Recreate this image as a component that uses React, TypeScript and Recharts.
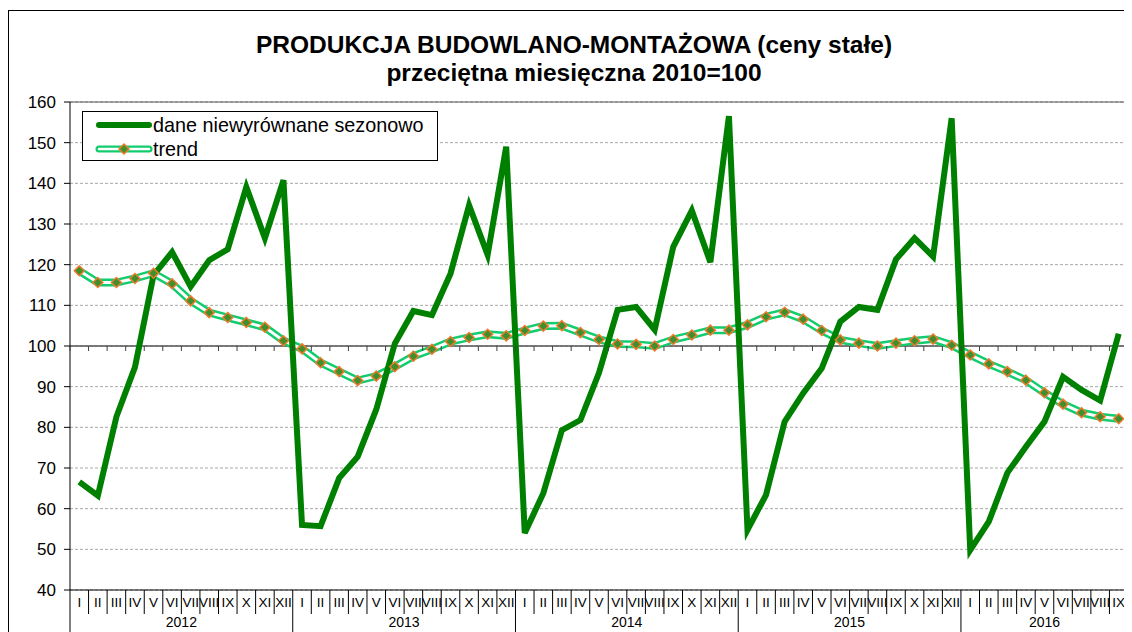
import React from 'react'
import {
  ComposedChart,
  Line,
  XAxis,
  YAxis,
  CartesianGrid,
  ReferenceLine,
} from 'recharts'

const ROMAN = ['I', 'II', 'III', 'IV', 'V', 'VI', 'VII', 'VIII', 'IX', 'X', 'XI', 'XII']
const YEARS = [2012, 2013, 2014, 2015, 2016]
const MONTHS_IN_YEAR = [12, 12, 12, 12, 9]

// dane niewyrównane sezonowo
const UNADJUSTED = [
  66.6, 63.2, 82.6, 94.8, 117.4, 123.1, 114.6, 121.1, 123.8, 139.1, 126.5, 140.8,
  56.0, 55.7, 67.5, 72.8, 84.4, 100.6, 108.6, 107.6, 117.8, 134.6, 122.4, 149.0,
  54.0, 63.8, 79.3, 81.8, 93.4, 108.9, 109.6, 104.0, 124.4, 133.3, 120.6, 156.5,
  54.8, 63.4, 81.4, 88.4, 94.5, 106.0, 109.6, 108.9, 121.3, 126.5, 122.0, 156.0,
  49.8, 56.8, 68.8, 75.2, 81.4, 92.4, 89.2, 86.6, 103.0,
]

const TREND = [
  118.5, 115.6, 115.6, 116.6, 117.9, 115.3, 111.1, 108.2, 107.0, 105.8, 104.6, 101.3,
  99.3, 95.9, 93.7, 91.5, 92.6, 94.9, 97.5, 99.2, 101.1, 102.1, 102.9, 102.5,
  103.8, 104.9, 105.0, 103.3, 101.6, 100.5, 100.4, 100.0, 101.6, 102.7, 103.9, 103.9,
  105.2, 107.2, 108.3, 106.6, 103.8, 101.5, 100.7, 100.0, 100.7, 101.3, 101.7, 100.2,
  97.8, 95.6, 93.7, 91.6, 88.5, 85.7, 83.6, 82.6, 82.1,
]

const Y_TICKS = [40, 50, 60, 70, 80, 90, 100, 110, 120, 130, 140, 150, 160]

const rows: { i: number; m: string; year: number; first: boolean; count: number; raw: number; trend: number }[] = []
YEARS.forEach((year, yi) => {
  for (let k = 0; k < MONTHS_IN_YEAR[yi]; k++) {
    const i = rows.length
    rows.push({
      i,
      m: ROMAN[k],
      year,
      first: k === 0,
      count: MONTHS_IN_YEAR[yi],
      raw: UNADJUSTED[i],
      trend: TREND[i],
    })
  }
})

const W = 1124
const H = 624
const MARGIN = { top: 94, right: 4, bottom: 0, left: 10 }
const Y_AXIS_W = 52
const X_AXIS_H = 42
const PLOT_LEFT = MARGIN.left + Y_AXIS_W
const PLOT_W = W - PLOT_LEFT - MARGIN.right
const PLOT_TOP = MARGIN.top
const PLOT_H = H - MARGIN.top - MARGIN.bottom - X_AXIS_H
const PLOT_BOTTOM = PLOT_TOP + PLOT_H
const STEP = PLOT_W / rows.length
const Y_AXIS_CROSS = PLOT_TOP + ((160 - 100) / 120) * PLOT_H

const FONT = '"Liberation Sans", Arial, sans-serif'

const MonthTick = (props: any) => {
  const { x, payload } = props
  const row = rows[payload.value]
  if (!row) return null
  const left = x - STEP / 2
  const right = x + STEP / 2
  const last = row.i === rows.length - 1
  return (
    <g>
      <line x1={left} x2={left} y1={PLOT_BOTTOM} y2={row.first ? H : PLOT_BOTTOM + 24} stroke="#000" strokeWidth={1} />
      {last && <line x1={right} x2={right} y1={PLOT_BOTTOM} y2={H} stroke="#000" strokeWidth={1} />}
      <line x1={left} x2={left} y1={Y_AXIS_CROSS} y2={Y_AXIS_CROSS + 5} stroke="#404040" strokeWidth={1} />
      {last && <line x1={right} x2={right} y1={Y_AXIS_CROSS} y2={Y_AXIS_CROSS + 5} stroke="#404040" strokeWidth={1} />}
      <text x={x} y={PLOT_BOTTOM + 17} textAnchor="middle" fontSize={13.5} fontFamily={FONT} fill="#000">
        {row.m}
      </text>
      {row.first && (
        <text
          x={x + ((row.count - 1) / 2) * STEP}
          y={PLOT_BOTTOM + 37}
          textAnchor="middle"
          fontSize={14}
          fontFamily={FONT}
          fill="#000"
        >
          {row.year}
        </text>
      )}
    </g>
  )
}

const Diamond = (props: any) => {
  const { cx, cy, index } = props
  if (cx == null || cy == null) return null
  const r = 5
  return (
    <polygon
      key={`d-${index}`}
      points={`${cx},${cy - r} ${cx + r},${cy} ${cx},${cy + r} ${cx - r},${cy}`}
      fill="#3f8f2f"
      stroke="#f07a2a"
      strokeWidth={1.5}
    />
  )
}

const LegendBox = () => (
  <div
    style={{
      position: 'absolute',
      left: 74,
      top: 103,
      width: 354,
      height: 48,
      border: '1px solid #000',
      background: '#fff',
      fontFamily: FONT,
      fontSize: 19.8,
      color: '#000',
      zIndex: 2,
    }}
  >
    <div style={{ position: 'absolute', left: 0, top: 2, height: 22, display: 'flex', alignItems: 'center' }}>
      <svg width={70} height={22} style={{ display: 'block' }}>
        <line x1={16} x2={66} y1={11} y2={11} stroke="#008000" strokeWidth={6} strokeLinecap="round" />
      </svg>
      <span>dane niewyrównane sezonowo</span>
    </div>
    <div style={{ position: 'absolute', left: 0, top: 26, height: 22, display: 'flex', alignItems: 'center' }}>
      <svg width={70} height={22} style={{ display: 'block' }}>
        <line x1={16} x2={66} y1={11} y2={11} stroke="#12cc6e" strokeWidth={7} strokeLinecap="round" />
        <line x1={16} x2={66} y1={11} y2={11} stroke="#fff" strokeWidth={2.5} strokeLinecap="round" />
        <polygon points="41,6 46,11 41,16 36,11" fill="#3f8f2f" stroke="#f07a2a" strokeWidth={1.5} />
      </svg>
      <span>trend</span>
    </div>
  </div>
)

export default function App() {
  return (
    <div style={{ position: 'relative', width: W, height: H, overflow: 'hidden', background: '#fff' }}>
      <div
        style={{
          position: 'absolute',
          left: 0,
          top: 2,
          width: 1140,
          height: 700,
          border: '1px solid #000',
          boxSizing: 'border-box',
        }}
      />
      <div
        style={{
          position: 'absolute',
          left: 0,
          top: 23,
          width: 1132,
          textAlign: 'center',
          fontFamily: FONT,
          fontWeight: 'bold',
          fontSize: 24.5,
          lineHeight: '28px',
          color: '#000',
          zIndex: 2,
        }}
      >
        PRODUKCJA BUDOWLANO-MONTAŻOWA (ceny stałe)
        <br />
        przeciętna miesięczna 2010=100
      </div>
      <LegendBox />
      <ComposedChart width={W} height={H} data={rows} margin={MARGIN} style={{ position: 'absolute', left: 0, top: 0 }}>
        <CartesianGrid vertical={false} stroke="#a8a8a8" strokeDasharray="3 2" />
        <XAxis
          dataKey="i"
          type="number"
          domain={[-0.5, rows.length - 0.5]}
          ticks={rows.map((r) => r.i)}
          interval={0}
          height={X_AXIS_H}
          tickLine={false}
          axisLine={{ stroke: '#000' }}
          tick={<MonthTick />}
        />
        <YAxis
          domain={[40, 160]}
          ticks={Y_TICKS}
          interval={0}
          width={Y_AXIS_W}
          tickSize={6}
          tickMargin={8}
          axisLine={{ stroke: '#000' }}
          tickLine={{ stroke: '#000' }}
          tick={{ fill: '#000', fontSize: 17, fontFamily: FONT }}
        />
        <ReferenceLine y={100} stroke="#555" strokeWidth={1.5} />
        <ReferenceLine y={160} stroke="#555" strokeWidth={1} />
        <ReferenceLine x={rows.length - 0.5} stroke="#333" strokeWidth={1} />
        <Line
          dataKey="trend"
          stroke="#12cc6e"
          strokeWidth={8}
          dot={false}
          activeDot={false}
          isAnimationActive={false}
        />
        <Line
          dataKey="trend"
          stroke="#fff"
          strokeWidth={3}
          dot={<Diamond />}
          activeDot={false}
          isAnimationActive={false}
        />
        <Line
          dataKey="raw"
          stroke="#008000"
          strokeWidth={6}
          strokeLinejoin="miter"
          dot={false}
          activeDot={false}
          isAnimationActive={false}
        />
      </ComposedChart>
    </div>
  )
}
